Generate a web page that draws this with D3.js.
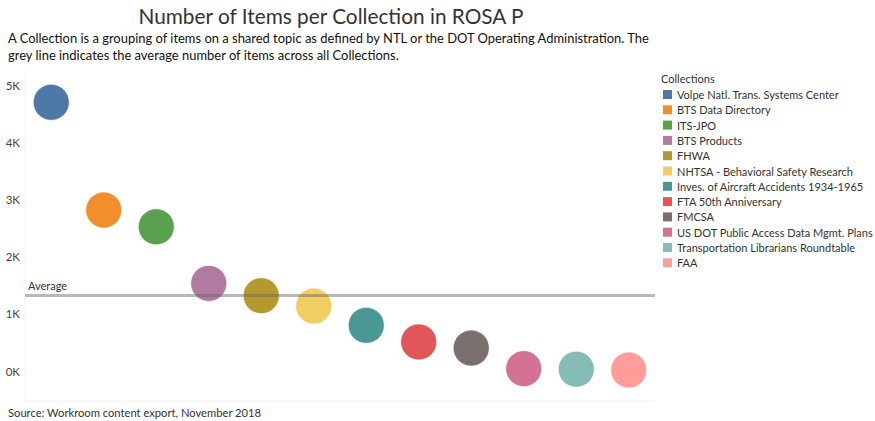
<!DOCTYPE html>
<html><head><meta charset="utf-8">
<script src="https://cdn.jsdelivr.net/npm/d3@7"></script>
<style>
body{margin:0;background:#fff;}
svg text{font-family:Lato,"Open Sans",sans-serif;}
</style></head>
<body><svg id="c" width="875" height="421"></svg>
<script>
const categories = ["Volpe Natl. Trans. Systems Center","BTS Data Directory","ITS-JPO","BTS Products","FHWA","NHTSA - Behavioral Safety Research","Inves. of Aircraft Accidents 1934-1965","FTA 50th Anniversary","FMCSA","US DOT Public Access Data Mgmt. Plans","Transportation Librarians Roundtable","FAA"];
const items = [4706,2823,2530,1540,1325,1145,807,516,410,50,40,26];
const colors = ["#4e79a7","#f28e2b","#59a14f","#b07aa1","#b6992d","#f1ce63","#499894","#e15759","#79706e","#d37295","#86bcb6","#ff9d9a"];
const yTicks = [0,1000,2000,3000,4000,5000];
const titleText = "Number of Items per Collection in ROSA P";
const subtitleLines = ["A Collection is a grouping of items on a shared topic as defined by NTL or the DOT Operating Administration. The","grey line indicates the average number of items across all Collections."];
const sourceText = "Source: Workroom content export, November 2018";

const svg = d3.select("#c");
const plot = {left:25, right:655, top:70, bottom:401};

const x = d3.scaleBand().domain(categories).range([plot.left, plot.right]);
const y = d3.scaleLinear().domain([0,5000]).range([371.5,85.5]);
const color = d3.scaleOrdinal().domain(categories).range(colors);
const avg = d3.mean(items);

// title
svg.append("text").attr("x",331).attr("y",24).attr("text-anchor","middle")
  .attr("font-size",20.8).attr("fill","#333").text(titleText);
svg.selectAll("text.sub").data(subtitleLines).join("text").attr("class","sub")
  .attr("x",8).attr("y",(d,i)=>42.5+i*17).attr("font-size",12.95).attr("fill","#111").text(d=>d);

// axis lines
svg.append("line").attr("x1",plot.left).attr("x2",plot.left).attr("y1",plot.top).attr("y2",plot.bottom)
  .attr("stroke","#f0f0f0");
svg.append("line").attr("x1",plot.left).attr("x2",plot.right).attr("y1",plot.bottom).attr("y2",plot.bottom)
  .attr("stroke","#f0f0f0");

// y axis
const yAxis = d3.axisLeft(y).tickValues(yTicks).tickSize(0).tickPadding(5)
  .tickFormat(d=>(d/1000)+"K");
const ga = svg.append("g").attr("transform",`translate(${plot.left},0)`).call(yAxis);
ga.select(".domain").remove();
ga.selectAll("text").attr("font-size",11.5).attr("fill","#444").attr("font-family","Lato,sans-serif");

// circles
svg.selectAll("circle.pt").data(categories).join("circle").attr("class","pt")
  .attr("cx",d=>x(d)+x.bandwidth()/2).attr("cy",(d,i)=>y(items[i]))
  .attr("r",18).attr("fill",d=>color(d)).attr("stroke","#fff").attr("stroke-width",0.6);

// average line
svg.append("line").attr("x1",plot.left).attr("x2",plot.right).attr("y1",y(avg)).attr("y2",y(avg))
  .attr("stroke","#646464").attr("stroke-opacity",0.45).attr("stroke-width",3);
svg.append("text").attr("x",28).attr("y",y(avg)-6).attr("font-size",11).attr("fill","#333").text("Average");

// legend
const lg = svg.append("g");
lg.append("text").attr("x",661).attr("y",83).attr("font-size",11).attr("fill","#333").text("Collections");
const rows = lg.selectAll("g.r").data(categories).join("g").attr("class","r")
  .attr("transform",(d,i)=>`translate(663,${95+i*15.3})`);
rows.append("rect").attr("x",0).attr("y",-5).attr("width",9).attr("height",9).attr("fill",d=>color(d));
rows.append("text").attr("x",14).attr("y",4).attr("font-size",11).attr("fill","#333").text(d=>d);

// source
svg.append("text").attr("x",8).attr("y",417).attr("font-size",11.2).attr("fill","#333").text(sourceText);
</script></body></html>
